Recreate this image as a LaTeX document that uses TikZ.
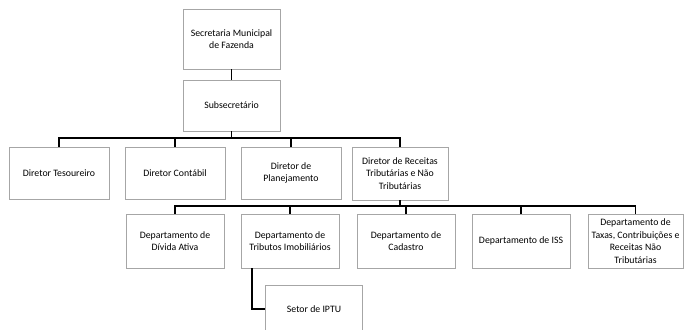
\documentclass[tikz,border=0pt]{standalone}
\usepackage{fontspec}
\setmainfont{Carlito}
\begin{document}
\begin{tikzpicture}[
        x=1pt, y=-1pt,
        box/.style={rectangle,draw=black!35,line width=0.7pt,fill=white,align=center,
                    font=\fontsize{9.8}{12.5}\selectfont,inner sep=1pt},
        dirbox/.style={box,minimum width=100pt,minimum height=52pt},
        depbox/.style={box,minimum width=98pt,minimum height=54pt},
        conn/.style={draw=black,line width=1.8pt}
        ]
        \useasboundingbox (0,0) rectangle (684,329);
        % top levels
        \node (sec) [box,minimum width=97pt,minimum height=60pt] at (231.5,39) {Secretaria Municipal\\de Fazenda};
        \node (sub) [box,minimum width=97pt,minimum height=51pt] at (231.5,105.5) {Subsecretário};
        % directors
        \node (dt) [dirbox] at (59,173) {Diretor Tesoureiro};
        \node (dc) [dirbox] at (175,173) {Diretor Contábil};
        \node (dp) [dirbox] at (291,173) {Diretor de\\Planejamento};
        \node (dr) [dirbox,minimum width=96pt,minimum height=53pt] at (400,173.5) {Diretor de Receitas\\Tributárias e Não\\Tributárias};
        % departments
        \node (dda) [depbox] at (175,241) {Departamento de\\Dívida Ativa};
        \node (dti) [depbox] at (290,241) {Departamento de\\Tributos Imobiliários};
        \node (dca) [depbox] at (406,241) {Departamento de\\Cadastro};
        \node (dis) [depbox] at (521,241) {Departamento de ISS};
        \node (dtx) [depbox,minimum width=95pt] at (635.5,241) {Departamento de\\Taxas, Contribuições e\\Receitas Não\\Tributárias};
        % sector
        \node (ipt) [box,minimum width=97pt,minimum height=48pt] at (314,309) {Setor de IPTU};
        % connectors
        \coordinate (b1) at (231.5,138);
        \coordinate (b2) at (400,206);
        \draw[conn] (sec.south) -- (sub.north);
        \draw[conn] (sub.south) -- (b1);
        \foreach \n in {dt,dc,dp,dr}
            \draw[conn] (b1) -| (\n.north);
        \draw[conn] (dr.south) -- (b2);
        \foreach \n in {dda,dti,dca,dis,dtx}
            \draw[conn] (b2) -| (\n.north);
        \coordinate (s1) at ([xshift=11pt]dti.south west);
        \draw[conn] (s1) |- (ipt.west);
\end{tikzpicture}
\end{document}
